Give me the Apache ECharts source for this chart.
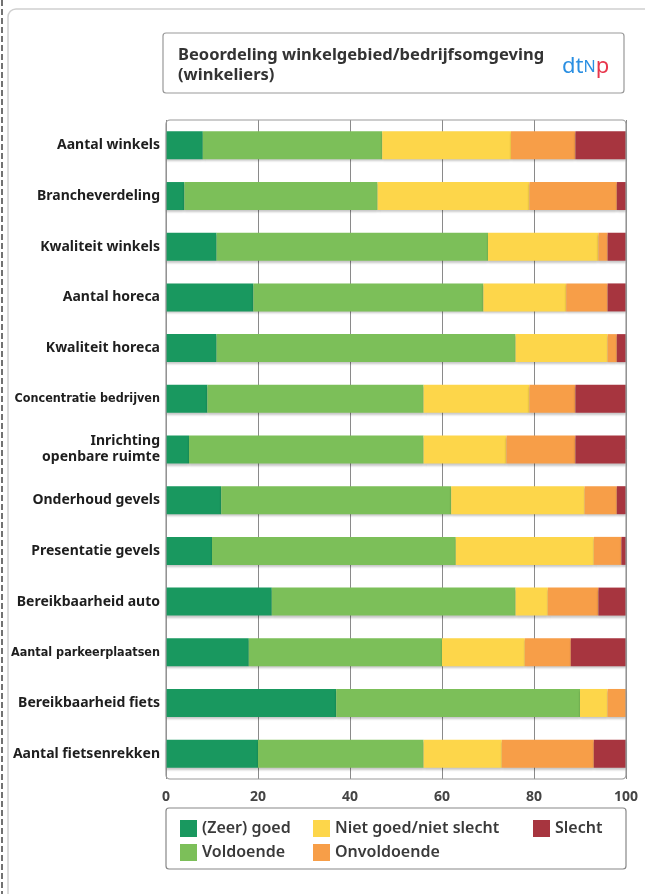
<!DOCTYPE html>
<html>
<head>
<meta charset="utf-8">
<title>Beoordeling winkelgebied</title>
<script src="https://cdn.jsdelivr.net/npm/echarts@6/dist/echarts.min.js"></script>
<style>
  html, body { margin: 0; padding: 0; background: #fff; }
  #main { width: 645px; height: 894px; }
</style>
</head>
<body>
<div id="main"></div>
<script>
// categories top -> bottom
var categories = ['Aantal winkels', 'Brancheverdeling', 'Kwaliteit winkels', 'Aantal horeca',
  'Kwaliteit horeca', 'Concentratie bedrijven', 'Inrichting\nopenbare ruimte', 'Onderhoud gevels',
  'Presentatie gevels', 'Bereikbaarheid auto', 'Aantal parkeerplaatsen', 'Bereikbaarheid fiets',
  'Aantal fietsenrekken'];

var zeerGoed    = [8, 4, 11, 19, 11, 9, 5, 12, 10, 23, 18, 37, 20];
var voldoende   = [39, 42, 59, 50, 65, 47, 51, 50, 53, 53, 42, 53, 36];
var nietGoed    = [28, 33, 24, 18, 20, 23, 18, 29, 30, 7, 18, 6, 17];
var onvoldoende = [14, 19, 2, 9, 2, 10, 15, 7, 6, 11, 10, 4, 20];
var slecht      = [11, 2, 4, 4, 2, 11, 11, 2, 1, 6, 12, 0, 7];

var xTicks = [0, 20, 40, 60, 80, 100];

var names = ['(Zeer) goed', 'Voldoende', 'Niet goed/niet slecht', 'Onvoldoende', 'Slecht'];
var colors = ['#19985f', '#7cbf59', '#fdd64a', '#f79e48', '#a7353f'];
var seriesData = [zeerGoed, voldoende, nietGoed, onvoldoende, slecht];

// long labels are squeezed in the original
var narrowLabels = ['Concentratie bedrijven', 'Aantal parkeerplaatsen'];

var chart = echarts.init(document.getElementById('main'));

var series = names.map(function (n, i) {
  return {
    name: n,
    type: 'bar',
    stack: 'total',
    barWidth: 28,
    data: seriesData[i],
    itemStyle: {
      color: colors[i],
      shadowColor: 'rgba(0,0,0,0.22)',
      shadowOffsetY: 2,
      shadowBlur: 2
    }
  };
});

var legendBase = {
  orient: 'vertical',
  top: 820,
  padding: 0,
  itemWidth: 17,
  itemHeight: 17,
  itemGap: 7,
  icon: 'rect',
  textStyle: { fontSize: 16, fontWeight: 600, color: '#3a3a3a', fontFamily: 'Noto Sans' }
};

var option = {
  animation: false,
  title: {
    text: 'Beoordeling winkelgebied/bedrijfsomgeving\n(winkeliers)',
    left: 173,
    top: 40,
    textStyle: { fontSize: 16.5, fontWeight: 'bold', color: '#333', fontFamily: 'Noto Sans', lineHeight: 20 }
  },
  legend: [
    Object.assign({}, legendBase, { left: 180, data: [names[0], names[1]] }),
    Object.assign({}, legendBase, { left: 313, data: [names[2], names[3]] }),
    Object.assign({}, legendBase, { left: 533, data: [names[4]] })
  ],
  grid: { left: 166, right: 19, top: 120, bottom: 115, containLabel: false },
  xAxis: {
    type: 'value',
    min: xTicks[0],
    max: xTicks[xTicks.length - 1],
    interval: 20,
    axisLine: { show: false },
    axisTick: { show: false },
    splitLine: { show: true, lineStyle: { color: '#8a8a8a', width: 1 } },
    axisLabel: { fontSize: 14, color: '#444', margin: 11, fontFamily: 'Noto Sans', fontWeight: 'bold' }
  },
  yAxis: {
    type: 'category',
    inverse: true,
    data: categories,
    axisLine: { show: false },
    axisTick: { show: false },
    axisLabel: {
      margin: 6,
      fontSize: 14,
      fontWeight: 'bold',
      color: '#1e1e1e',
      fontFamily: 'Noto Sans',
      lineHeight: 16,
      formatter: function (v) {
        if (narrowLabels.indexOf(v) >= 0) return '{n|' + v + '}';
        return v;
      },
      rich: {
        n: { fontSize: 12.5, fontWeight: 'bold', color: '#1e1e1e', fontFamily: 'DejaVu Sans Condensed' }
      }
    }
  },
  graphic: [
    { type: 'rect', silent: true, z: -10, shape: { x: 8, y: 9, width: 700, height: 920, r: 8 },
      style: { fill: 'none', stroke: '#cfcfcf', lineWidth: 1.5 } },
    { type: 'line', silent: true, shape: { x1: 2, y1: 0, x2: 2, y2: 894 },
      style: { stroke: '#444', lineWidth: 1.5, lineDash: [6, 3] } },
    { type: 'rect', silent: true, shape: { x: 163, y: 33, width: 461, height: 60, r: 3 },
      style: { fill: 'none', stroke: '#999', lineWidth: 1.2 } },
    { type: 'text', silent: true, left: 562, top: 56,
      style: {
        text: '{a|dt}{b|N}{c|p}',
        rich: {
          a: { fontSize: 22, fill: '#2a8fe2', fontFamily: 'Noto Sans' },
          b: { fontSize: 16, fill: '#2a8fe2', fontFamily: 'Noto Sans' },
          c: { fontSize: 22, fill: '#e8364c', fontFamily: 'Noto Sans' }
        }
      } },
    { type: 'rect', silent: true, z: 10, shape: { x: 166, y: 120, width: 460, height: 659, r: 4 },
      style: { fill: 'none', stroke: '#9a9a9a', lineWidth: 1.2 } },
    { type: 'rect', silent: true, shape: { x: 166, y: 808, width: 460, height: 61, r: 3 },
      style: { fill: 'none', stroke: '#888', lineWidth: 1.2 } }
  ],
  series: series
};

chart.setOption(option);
</script>
</body>
</html>
